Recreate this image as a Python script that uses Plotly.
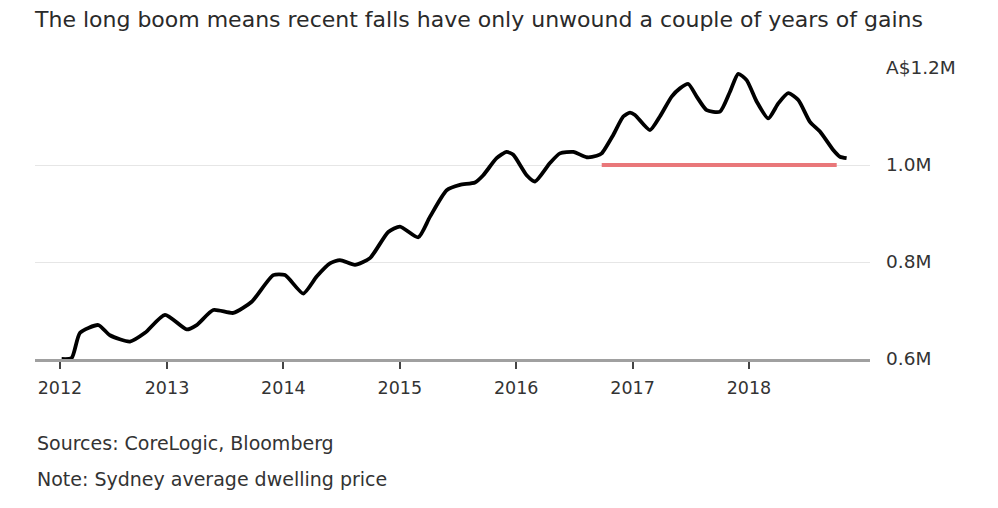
import plotly.graph_objects as go

# Sydney average dwelling price (A$ millions)
years = [2012.095, 2012.181, 2012.253, 2012.41, 2012.51, 2012.682, 2012.811, 2012.983,
         2013.169, 2013.255, 2013.398, 2013.57, 2013.728, 2013.913, 2014.014, 2014.171,
         2014.286, 2014.40, 2014.486, 2014.615, 2014.744, 2014.901, 2015.002, 2015.159,
         2015.259, 2015.403, 2015.517, 2015.646, 2015.717, 2015.832, 2015.918, 2015.975,
         2016.09, 2016.162, 2016.29, 2016.376, 2016.491, 2016.606, 2016.692, 2016.735,
         2016.834, 2016.92, 2016.978, 2017.021, 2017.149, 2017.235, 2017.336, 2017.407,
         2017.479, 2017.551, 2017.637, 2017.751, 2017.837, 2017.908, 2017.98, 2018.066,
         2018.166, 2018.252, 2018.338, 2018.424, 2018.524, 2018.61, 2018.724, 2018.782,
         2018.839]
price = [0.600, 0.602, 0.654, 0.670, 0.649, 0.636, 0.654, 0.691,
         0.661, 0.670, 0.701, 0.695, 0.718, 0.773, 0.773, 0.735,
         0.770, 0.797, 0.804, 0.794, 0.808, 0.862, 0.873, 0.851,
         0.893, 0.948, 0.959, 0.964, 0.979, 1.014, 1.027, 1.021,
         0.979, 0.966, 1.004, 1.024, 1.027, 1.016, 1.019, 1.024,
         1.062, 1.100, 1.108, 1.103, 1.072, 1.100, 1.141, 1.158,
         1.167, 1.141, 1.113, 1.110, 1.151, 1.188, 1.175, 1.131,
         1.096, 1.127, 1.148, 1.134, 1.089, 1.069, 1.031, 1.017,
         1.014]

# reference level (red line)
ref_years = [2016.735, 2018.754]
ref_level = [1.0, 1.0]

x_tickvals = [2012.08, 2013, 2014, 2015, 2016, 2017, 2018]
x_ticktext = ["2012", "2013", "2014", "2015", "2016", "2017", "2018"]
y_tickvals = [0.6, 0.8, 1.0, 1.2]
y_ticktext = ["0.6M", "0.8M", "1.0M", "A$1.2M"]

title_text = "The long boom means recent falls have only unwound a couple of years of gains"
source_text = "Sources: CoreLogic, Bloomberg"
note_text = "Note: Sydney average dwelling price"

FONT = "DejaVu Sans, Verdana, sans-serif"

fig = go.Figure()
fig.add_trace(go.Scatter(x=ref_years, y=ref_level, mode="lines",
                         line=dict(color="#e9777a", width=4), hoverinfo="skip",
                         showlegend=False))
fig.add_trace(go.Scatter(x=years, y=price, mode="lines",
                         line=dict(color="#000000", width=3.8, shape="spline", smoothing=0.6),
                         showlegend=False))

fig.update_layout(
    width=998, height=508,
    margin=dict(l=35, r=128, t=68, b=149),
    paper_bgcolor="white", plot_bgcolor="white",
    font=dict(family=FONT, color="#333333"),
    title=dict(text=title_text, x=35/998, xanchor="left", xref="container",
               y=1 - 19/508, yanchor="middle", yref="container",
               font=dict(size=22, color="#2a2a2a", family=FONT)),
    xaxis=dict(range=[2011.866, 2019.040], tickvals=x_tickvals, ticktext=x_ticktext,
               showgrid=False, zeroline=False, showline=True, linecolor="#a0a0a0",
               linewidth=3, ticks="outside", ticklen=7, tickwidth=1.5, tickcolor="#444444",
               ticklabelstandoff=4,
               tickfont=dict(size=17.5, color="#333333", family=FONT)),
    yaxis=dict(range=[0.6, 1.2], tickvals=y_tickvals, ticktext=y_ticktext, side="right",
               showgrid=True, gridcolor="#e6e6e6", gridwidth=1, zeroline=False,
               showline=False, ticks="", ticklabelstandoff=15,
               tickfont=dict(size=18.5, color="#333333", family=FONT)),
    annotations=[
        dict(text=source_text, xref="paper", yref="paper", x=0, y=-0.2887,
             xanchor="left", yanchor="middle", showarrow=False,
             font=dict(size=19, color="#333333", family=FONT)),
        dict(text=note_text, xref="paper", yref="paper", x=0, y=-0.412,
             xanchor="left", yanchor="middle", showarrow=False,
             font=dict(size=19, color="#333333", family=FONT)),
    ],
)

fig.write_html("out.html")
